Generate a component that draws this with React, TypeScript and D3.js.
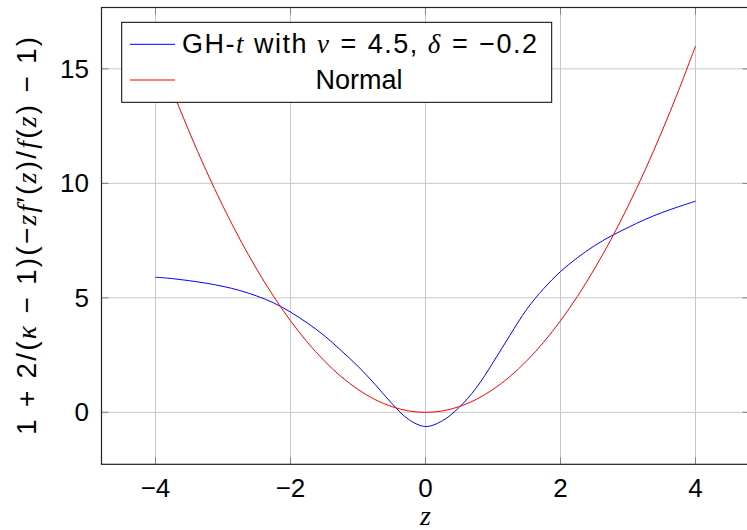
import React, { useEffect, useRef } from "react";
import * as d3 from "d3";

// z grid the curves were read at
const zValues = [
  -4, -3.75, -3.5, -3.25, -3, -2.75, -2.5, -2.25, -2, -1.75, -1.5, -1.25, -1,
  -0.75, -0.5, -0.25, 0, 0.25, 0.5, 0.75, 1, 1.25, 1.5, 1.75, 2, 2.25, 2.5,
  2.75, 3, 3.25, 3.5, 3.75, 4,
];

// GH-t with nu = 4.5, delta = -0.2
const ghtValues = [
  5.9, 5.84, 5.75, 5.64, 5.5, 5.32, 5.08, 4.78, 4.38, 3.9, 3.35, 2.7, 2.01,
  1.23, 0.39, -0.31, -0.62, -0.37, 0.22, 1.06, 2.17, 3.36, 4.5, 5.4, 6.15,
  6.75, 7.27, 7.7, 8.07, 8.42, 8.72, 8.98, 9.22,
];

// Normal
const normalValues = [
  16, 14.06, 12.25, 10.56, 9, 7.56, 6.25, 5.06, 4, 3.06, 2.25, 1.56, 1, 0.56,
  0.25, 0.06, 0, 0.06, 0.25, 0.56, 1, 1.56, 2.25, 3.06, 4, 5.06, 6.25, 7.56, 9,
  10.56, 12.25, 14.06, 16,
];

const xTicks = [-4, -2, 0, 2, 4];
const yTicks = [0, 5, 10, 15];
const xDomain = [-4.8, 4.8];
const yDomain = [-2.27, 17.68];

const W = 747;
const H = 530;
const FONT = "'Liberation Sans', Arial, sans-serif";
const MATH = "'Liberation Serif', 'DejaVu Serif', serif";

type Part = { t: string; it?: boolean; dx?: number };

// math-ish label: italic letters in serif, extra room around operators
const yLabelParts: Part[] = [
  { t: "1" },
  { t: "+", dx: 10 },
  { t: "2/(", dx: 10 },
  { t: "\u03BA", it: true },
  { t: "\u2212", dx: 10 },
  { t: "1)(\u2212", dx: 10 },
  { t: "zf", it: true },
  { t: "\u2032(" },
  { t: "z", it: true },
  { t: ")/" },
  { t: "f", it: true },
  { t: "(" },
  { t: "z", it: true },
  { t: ")" },
  { t: "\u2212", dx: 10 },
  { t: "1)", dx: 10 },
];

const legendParts: Part[] = [
  { t: "GH-" },
  { t: "t", it: true },
  { t: " with " },
  { t: "\u03BD", it: true },
  { t: "=", dx: 10 },
  { t: "4.5,", dx: 10 },
  { t: " " },
  { t: "\u03B4", it: true },
  { t: "=", dx: 10 },
  { t: "\u22120.2", dx: 10 },
];

export default function App() {
  const ref = useRef<SVGSVGElement>(null);

  useEffect(() => {
    document.body.style.margin = "0";
    const svg = d3.select(ref.current);
    svg.selectAll("*").remove();

    const x = d3.scaleLinear().domain(xDomain).range([101.5, 749.5]);
    const y = d3.scaleLinear().domain(yDomain).range([464.3, 7.5]);
    const [x0, x1] = x.range();
    const [y0, y1] = y.range();

    svg
      .append("defs")
      .append("clipPath")
      .attr("id", "plot-clip")
      .append("rect")
      .attr("x", x0)
      .attr("y", y1)
      .attr("width", x1 - x0)
      .attr("height", y0 - y1);

    // grid
    svg
      .selectAll(".gx")
      .data(xTicks)
      .join("line")
      .attr("x1", (d) => x(d))
      .attr("x2", (d) => x(d))
      .attr("y1", y0)
      .attr("y2", y1)
      .attr("stroke", "#c8c8c8")
      .attr("stroke-width", 1);
    svg
      .selectAll(".gy")
      .data(yTicks)
      .join("line")
      .attr("x1", x0)
      .attr("x2", x1)
      .attr("y1", (d) => y(d))
      .attr("y2", (d) => y(d))
      .attr("stroke", "#c8c8c8")
      .attr("stroke-width", 1);

    // tick marks on all four sides, pointing inward
    const tl = 7;
    xTicks.forEach((t) => {
      [
        [y0, y0 - tl],
        [y1, y1 + tl],
      ].forEach(([a, b]) =>
        svg
          .append("line")
          .attr("x1", x(t))
          .attr("x2", x(t))
          .attr("y1", a)
          .attr("y2", b)
          .attr("stroke", "#808080")
          .attr("stroke-width", 1)
      );
    });
    yTicks.forEach((t) => {
      [
        [x0, x0 + tl],
        [x1, x1 - tl],
      ].forEach(([a, b]) =>
        svg
          .append("line")
          .attr("x1", a)
          .attr("x2", b)
          .attr("y1", y(t))
          .attr("y2", y(t))
          .attr("stroke", "#808080")
          .attr("stroke-width", 1)
      );
    });

    // curves
    const line = d3
      .line<number>()
      .x((_, i) => x(zValues[i]))
      .y((d) => y(d))
      .curve(d3.curveCatmullRom.alpha(0.5));

    const plot = svg.append("g").attr("clip-path", "url(#plot-clip)");
    plot
      .append("path")
      .attr("d", line(ghtValues))
      .attr("fill", "none")
      .attr("stroke", "blue")
      .attr("stroke-width", 1);
    plot
      .append("path")
      .attr("d", line(normalValues))
      .attr("fill", "none")
      .attr("stroke", "red")
      .attr("stroke-width", 1);

    // frame
    svg
      .append("rect")
      .attr("x", x0)
      .attr("y", y1)
      .attr("width", x1 - x0)
      .attr("height", y0 - y1)
      .attr("fill", "none")
      .attr("stroke", "#222")
      .attr("stroke-width", 1.2);

    // tick labels
    svg
      .selectAll(".xl")
      .data(xTicks)
      .join("text")
      .attr("x", (d) => x(d))
      .attr("y", 497)
      .attr("text-anchor", "middle")
      .attr("font-family", FONT)
      .attr("font-size", 26)
      .text((d) => (d < 0 ? "\u2212" + Math.abs(d) : String(d)));
    svg
      .selectAll(".yl")
      .data(yTicks)
      .join("text")
      .attr("x", 89)
      .attr("y", (d) => y(d) + 9)
      .attr("text-anchor", "end")
      .attr("font-family", FONT)
      .attr("font-size", 26)
      .text((d) => String(d));

    const addParts = (sel: any, parts: Part[]) =>
      parts.forEach((p) =>
        sel
          .append("tspan")
          .attr("dx", p.dx ?? 0)
          .attr("font-family", p.it ? MATH : FONT)
          .attr("font-style", p.it ? "italic" : "normal")
          .text(p.t)
      );

    // axis labels
    svg
      .append("text")
      .attr("x", x(0))
      .attr("y", 525)
      .attr("text-anchor", "middle")
      .attr("font-family", MATH)
      .attr("font-style", "italic")
      .attr("font-size", 28)
      .text("z");

    const yl = svg
      .append("text")
      .attr("transform", `translate(36,${(y0 + y1) / 2}) rotate(-90)`)
      .attr("text-anchor", "middle")
      .attr("font-family", FONT)
      .attr("font-size", 28)
      .attr("textLength", 398)
      .attr("lengthAdjust", "spacing");
    addParts(yl, yLabelParts);

    // legend
    const lg = svg.append("g");
    lg.append("rect")
      .attr("x", 121.7)
      .attr("y", 22.3)
      .attr("width", 430)
      .attr("height", 80)
      .attr("fill", "white")
      .attr("stroke", "black")
      .attr("stroke-width", 1);
    const entries: [string, number][] = [
      ["blue", 44.3],
      ["red", 80],
    ];
    entries.forEach(([c, ly]) =>
      lg
        .append("line")
        .attr("x1", 130)
        .attr("x2", 175)
        .attr("y1", ly)
        .attr("y2", ly)
        .attr("stroke", c)
        .attr("stroke-width", 1)
    );
    const t1 = lg
      .append("text")
      .attr("x", 182)
      .attr("y", 53.3)
      .attr("font-family", FONT)
      .attr("font-size", 27)
      .attr("textLength", 355)
      .attr("lengthAdjust", "spacing");
    addParts(t1, legendParts);
    lg.append("text")
      .attr("x", 359)
      .attr("y", 89.3)
      .attr("text-anchor", "middle")
      .attr("font-family", FONT)
      .attr("font-size", 27)
      .text("Normal");
  }, []);

  return <svg ref={ref} width={W} height={H} style={{ display: "block" }} />;
}
